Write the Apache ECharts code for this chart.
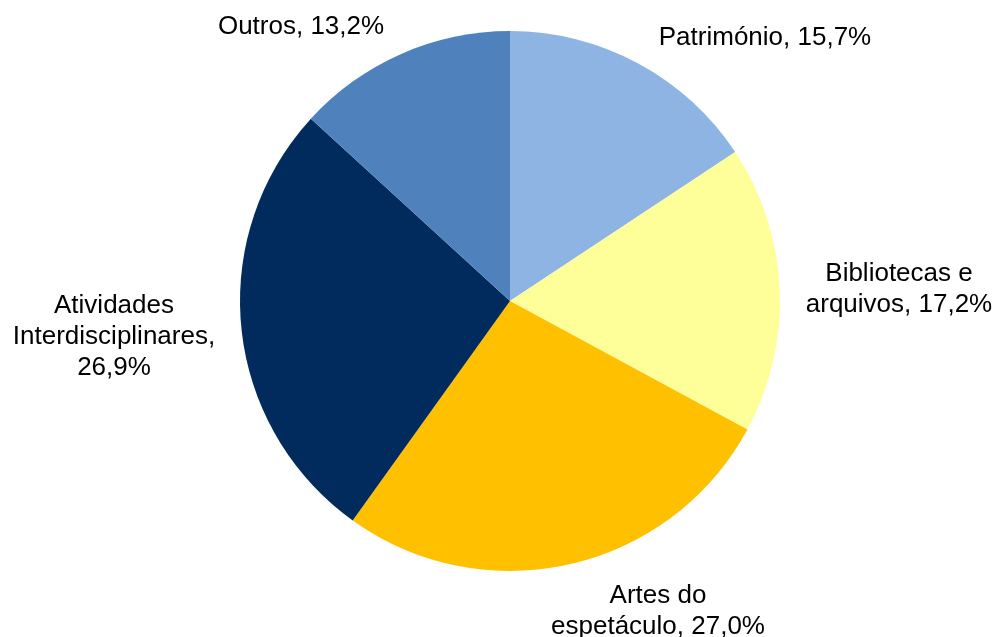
<!DOCTYPE html>
<html>
<head>
<meta charset="utf-8">
<script src="https://cdn.jsdelivr.net/npm/echarts@6/dist/echarts.min.js"></script>
<style>
    html, body { margin: 0; padding: 0; background: #ffffff; }
    #chart { width: 997px; height: 637px; }
</style>
</head>
<body>
<div id="chart"></div>
<script>
// data
const categories = ['Património', 'Bibliotecas e\narquivos', 'Artes do\nespetáculo', 'Atividades\nInterdisciplinares', 'Outros'];
const values = [15.7, 17.2, 27.0, 26.9, 13.2];
const separators = [', ', ', ', ', ', ',\n', ', '];
const colors = ['#8DB4E2', '#FFFF99', '#FFC000', '#002B5C', '#4F81BD'];

// where each label block sits (centre of the text block)
const labelAnchors = [[765, 38], [899, 289], [658, 611], [114, 337], [301, 27]];

const chartDom = document.getElementById('chart');
const myChart = echarts.init(chartDom);
let option;

option = {
    animation: false,
    series: [
        {
            type: 'pie',
            center: [510, 301],
            radius: 270,
            startAngle: 90,
            clockwise: true,
            data: categories.map(function (name, i) {
                return {name: name, value: values[i], itemStyle: {color: colors[i]}};
            }),
            label: {
                show: true,
                position: 'outside',
                alignTo: 'none',
                overflow: 'none',
                color: '#000000',
                fontFamily: 'Liberation Sans, Arial, sans-serif',
                fontSize: 26,
                lineHeight: 31,
                align: 'center',
                formatter: function (p) {
                    return p.name + separators[p.dataIndex] + p.value.toFixed(1).replace('.', ',') + '%';
                }
            },
            labelLine: {show: false},
            labelLayout: function (params) {
                const a = labelAnchors[params.dataIndex];
                return {x: a[0], y: a[1], align: 'center', verticalAlign: 'middle', width: 400};
            }
        }
    ]
};

option && myChart.setOption(option);
</script>
</body>
</html>
